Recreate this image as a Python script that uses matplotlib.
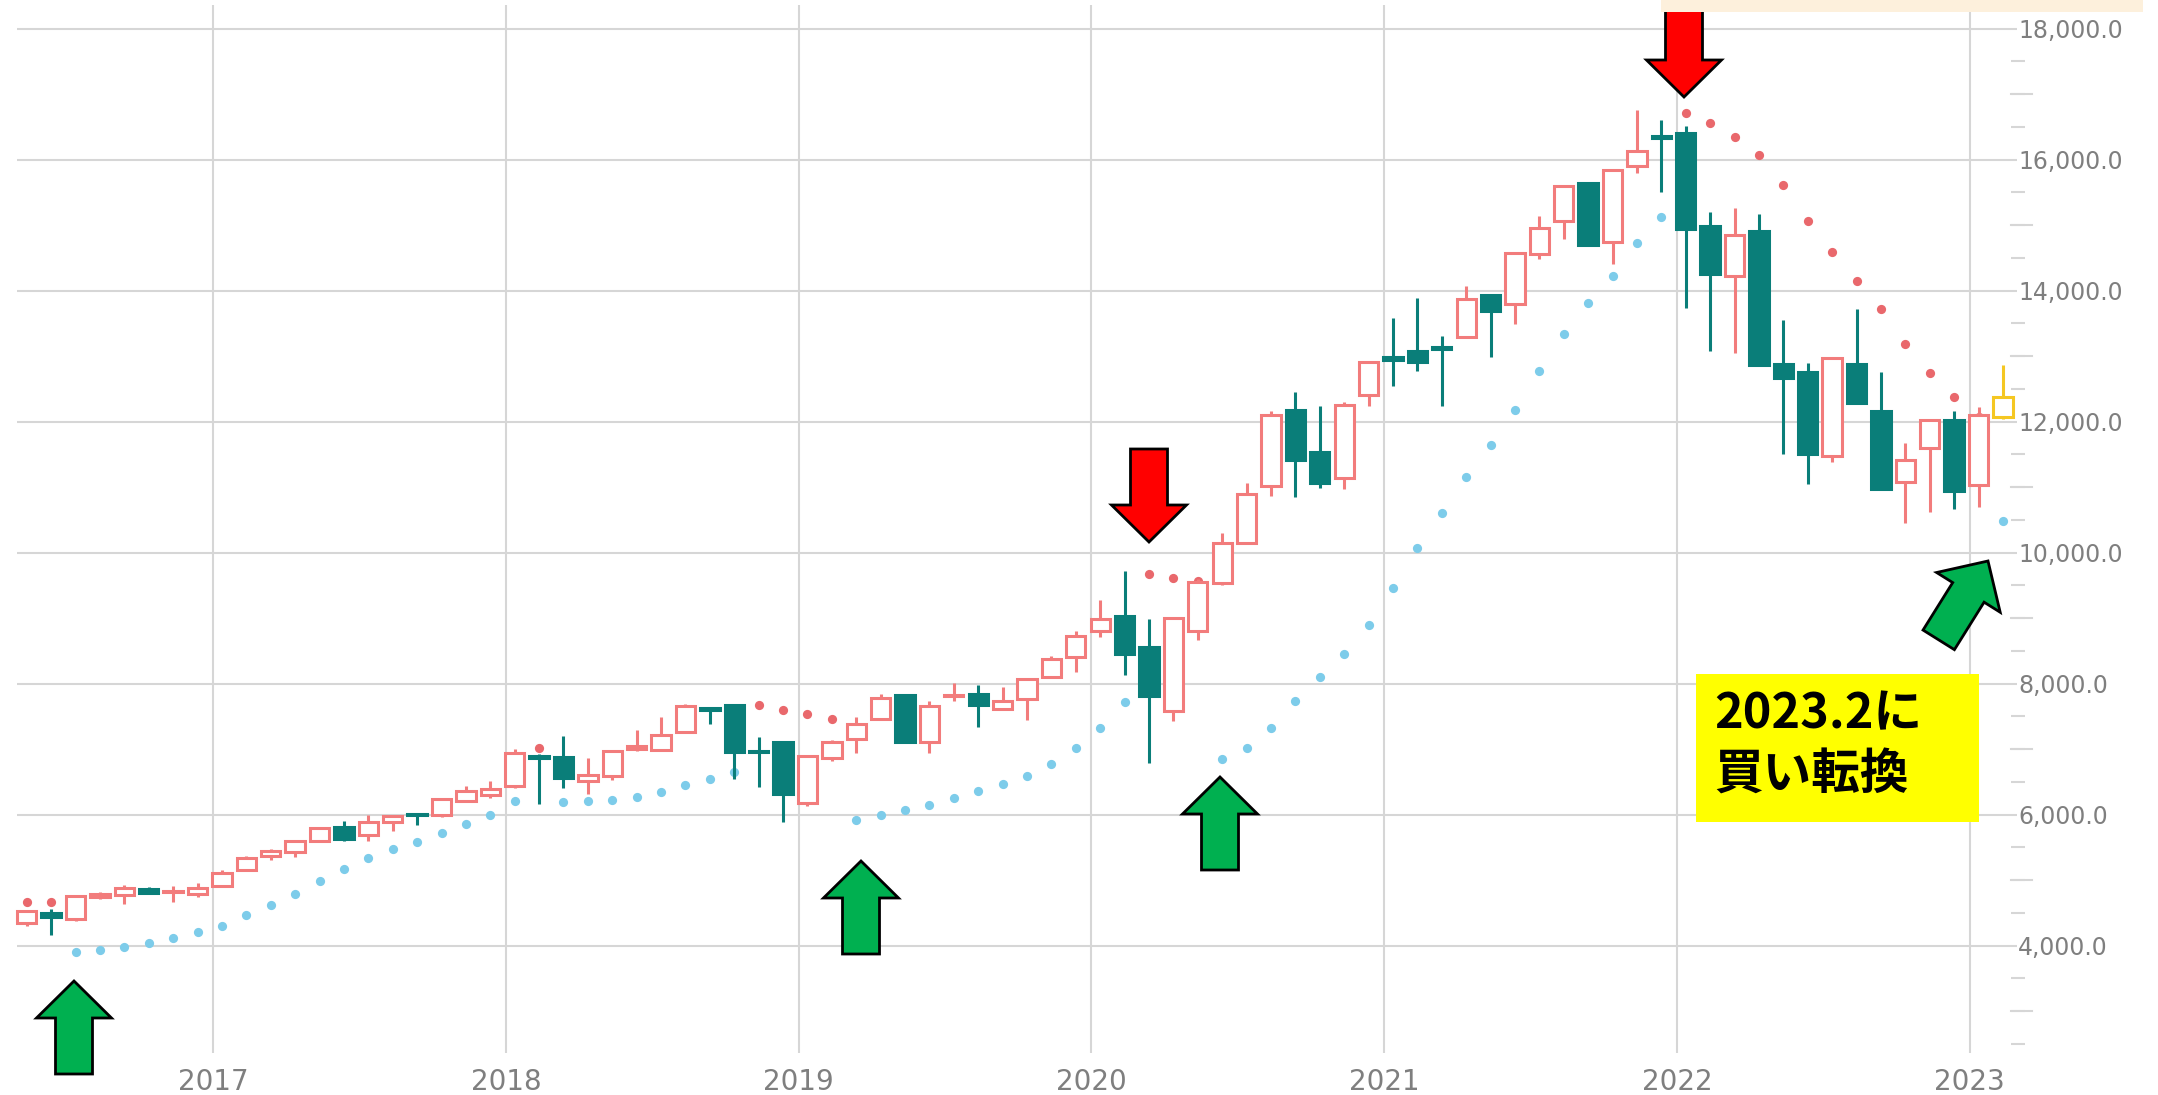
import numpy as np
import pandas as pd
import matplotlib
matplotlib.use("Agg")
import matplotlib.pyplot as plt
import matplotlib.transforms as mtransforms
from matplotlib.patches import Polygon, Rectangle
from matplotlib.ticker import FuncFormatter

# monthly candles, May 2016 .. Feb 2023
months = pd.period_range("2016-05", "2023-02", freq="M")
opens = [4346, 4500, 4400, 4740, 4770, 4865, 4820, 4790, 4905, 5160, 5364, 5430,
         5603, 5807, 5695, 5888, 6010, 6000, 6213, 6295, 6432, 6900, 6875, 6519,
         6585, 7008, 6985, 7264, 7630, 7670, 6970, 7102, 6173, 6858, 7152, 7457,
         7822, 7102, 7812, 7848, 7609, 7772, 8101, 8401, 8807, 9036, 8563, 7579,
         8807, 9528, 10152, 11015, 12183, 11538, 11142, 12406, 12980, 13081, 13132, 13284,
         13929, 13792, 14553, 15061, 15645, 14741, 15898, 16355, 16406, 14985, 14223, 14909,
         12878, 12762, 11472, 12880, 12164, 11073, 11590, 12029, 11032, 12070]
highs = [4550, 4560, 4768, 4815, 4920, 4900, 4905, 4956, 5160, 5360, 5480, 5600,
         5810, 5898, 5990, 5985, 6020, 6255, 6433, 6509, 7003, 6930, 7196, 6865,
         6990, 7298, 7495, 7695, 7640, 7690, 7188, 7110, 6910, 7137, 7492, 7848,
         7830, 7731, 8015, 7985, 7949, 8090, 8421, 8807, 9274, 9721, 8985, 9020,
         9594, 10305, 11066, 12157, 12457, 12234, 12294, 12930, 13574, 13893, 13310, 14071,
         13945, 14585, 15137, 15610, 15665, 15860, 16761, 16599, 16518, 15198, 15264, 15162,
         13554, 12892, 12990, 13713, 12762, 11678, 12040, 12164, 12230, 12860]
lows = [4295, 4160, 4380, 4715, 4640, 4780, 4660, 4735, 4900, 5150, 5313, 5349,
        5590, 5603, 5593, 5746, 5840, 5960, 6203, 6254, 6407, 6160, 6407, 6315,
        6534, 6977, 6970, 7250, 7390, 6550, 6426, 5893, 6137, 6817, 6934, 7440,
        7100, 6934, 7731, 7340, 7590, 7442, 8090, 8173, 8716, 8137, 6787, 7426,
        8665, 9510, 10140, 10863, 10853, 10980, 10964, 12244, 12548, 12777, 12234, 13270,
        12980, 13487, 14477, 14792, 14680, 14401, 15797, 15503, 13741, 13081, 13046, 12850,
        11502, 11050, 11384, 12270, 10960, 10446, 10622, 10663, 10700, 12047]
closes = [4524, 4440, 4753, 4790, 4885, 4805, 4840, 4880, 5109, 5338, 5450, 5593,
          5797, 5634, 5888, 5975, 5995, 6244, 6366, 6397, 6941, 6860, 6560, 6611,
          6977, 7043, 7213, 7660, 7600, 6960, 6950, 6310, 6898, 7102, 7376, 7782,
          7112, 7660, 7832, 7680, 7731, 8076, 8381, 8731, 8985, 8452, 7817, 9000,
          9558, 10152, 10898, 12107, 11421, 11066, 12259, 12914, 12944, 12914, 13107, 13878,
          13690, 14569, 14959, 15594, 14690, 15848, 16127, 16330, 14944, 14249, 14843, 12863,
          12660, 11502, 12968, 12282, 10974, 11414, 12029, 10944, 12100, 12370]

# parabolic SAR per month and its side
sar = [4665, 4665, 3900, 3930, 3974, 4036, 4114, 4207, 4305, 4460, 4615, 4786,
       4992, 5173, 5339, 5468, 5576, 5716, 5855, 5990, 6204, 7017, 6188, 6204,
       6219, 6270, 6346, 6450, 6543, 6645, 7670, 7594, 7533, 7457, 5919, 5995,
       6071, 6147, 6259, 6360, 6462, 6594, 6766, 7010, 7325, 7720, 9670, 9619,
       9570, 6853, 7020, 7325, 7731, 8107, 8452, 8898, 9457, 10076, 10609, 11152,
       11640, 12183, 12777, 13340, 13810, 14220, 14730, 15130, 16710, 16560, 16350, 16076,
       15610, 15062, 14585, 14141, 13713, 13185, 12745, 12380, 12075, 10487]
sar_side = (["sell"] * 2 + ["buy"] * 19 + ["sell"] + ["buy"] * 8 + ["sell"] * 4
            + ["buy"] * 12 + ["sell"] * 3 + ["buy"] * 19 + ["sell"] * 13 + ["buy"])

year_ticks = [2017, 2018, 2019, 2020, 2021, 2022, 2023]
note_lines = ["2023.2に", "買い転換"]

RED = "#F27C7C"
TEAL = "#0A7E79"
GOLD = "#F5C722"
SAR_RED = "#E9686C"
SAR_BLUE = "#7DCCEA"
GRID = "#D6D6D6"
LABEL = "#7F7F7F"

W, H = 2158, 1095
fig = plt.figure(figsize=(W / 100, H / 100), dpi=100)
ax = fig.add_axes([17 / W, 42 / H, (2011 - 17) / W, (1090 - 42) / H])

x = np.array([p.year + (p.month - 1) / 12 + 0.03 for p in months])
o = np.array(opens, float)
h = np.array(highs, float)
l = np.array(lows, float)
c = np.array(closes, float)
s = np.array(sar, float)
side = np.array(sar_side)

# SAR dots
ax.scatter(x[side == "sell"], s[side == "sell"], s=44, color=SAR_RED, lw=0, zorder=2)
ax.scatter(x[side == "buy"], s[side == "buy"], s=44, color=SAR_BLUE, lw=0, zorder=2,
           clip_on=False)

# candles
n = len(x)
cols = [RED if c[i] >= o[i] else TEAL for i in range(n)]
cols[-1] = GOLD
faces = ["white" if c[i] >= o[i] else TEAL for i in range(n)]
ax.vlines(x, l, h, colors=cols, lw=2.2, zorder=3, clip_on=False)
bottom = np.minimum(o, c)
height = np.maximum(np.abs(c - o), 12)
bars = ax.bar(x, height, bottom=bottom, width=0.066, color=faces, edgecolor=cols,
              linewidth=2.2, zorder=4)
for b in bars:
    b.set_clip_on(False)

ax.set_xlim(2016.330, 2023.141)
ax.set_ylim(2360, 18360)
for sp in ax.spines.values():
    sp.set_visible(False)

ax.set_xticks(year_ticks)
ax.set_xticklabels([str(y) for y in year_ticks])
ax.set_yticks(range(4000, 18001, 2000))
ax.set_yticks([v for v in range(2500, 18001, 500) if v % 2000], minor=True)
ax.yaxis.tick_right()
ax.yaxis.set_major_formatter(FuncFormatter(lambda v, p: f"{v:,.1f}"))
ax.grid(True, which="major", color=GRID, lw=1.5)
ax.set_axisbelow(True)
ax.tick_params(axis="x", length=0, pad=11, labelsize=20, labelcolor=LABEL)
ax.tick_params(axis="y", which="major", length=4, width=1.5, color=GRID,
               labelsize=17, labelcolor=LABEL, pad=1)
ax.tick_params(axis="y", which="minor", length=10, width=1.5, color=GRID)
tr = mtransforms.blended_transform_factory(ax.transAxes, ax.transData)
for v in range(3000, 18001, 2000):
    ax.plot([1.0, 1.0105], [v, v], color=GRID, lw=1.5, transform=tr, clip_on=False)

# overlay for hand-drawn annotations, in pixels
ov = fig.add_axes([0, 0, 1, 1])
ov.set_xlim(0, W)
ov.set_ylim(H, 0)
ov.axis("off")
ov.patch.set_alpha(0)


def block_arrow(tx, ty, color, down=False, angle=0.0):
    pts = np.array([(0, 0), (37.5, 37), (18.5, 37), (18.5, 93),
                    (-18.5, 93), (-18.5, 37), (-37.5, 37)], float)
    if down:
        pts[:, 1] *= -1
    a = np.radians(angle)
    rot = np.array([[np.cos(a), -np.sin(a)], [np.sin(a), np.cos(a)]])
    pts = pts @ rot.T + [tx, ty]
    ov.add_patch(Polygon(pts, closed=True, facecolor=color, edgecolor="black",
                         lw=2.0, joinstyle="miter", zorder=5))


block_arrow(74, 981, "#00B050")
block_arrow(861, 861, "#00B050")
block_arrow(1220, 777, "#00B050")
block_arrow(1149, 542, "#FF0000", down=True)
block_arrow(1684, 97, "#FF0000", down=True)
block_arrow(1988, 561, "#00B050", angle=32)

ov.add_patch(Rectangle((1661, 0), 2143 - 1661, 12, facecolor="#FDF0DC",
                       edgecolor="none", zorder=6))

ov.add_patch(Rectangle((1696, 674), 1979 - 1696, 822 - 674, facecolor="#FFFF00",
                       edgecolor="none", zorder=5))
for i, line in enumerate(note_lines):
    ov.text(1714, 714 + i * 61, line, fontsize=35, fontweight="bold", color="black",
            family=["Noto Sans CJK JP", "DejaVu Sans"], va="center", ha="left", zorder=7)

fig.savefig("out.png", dpi=100)
